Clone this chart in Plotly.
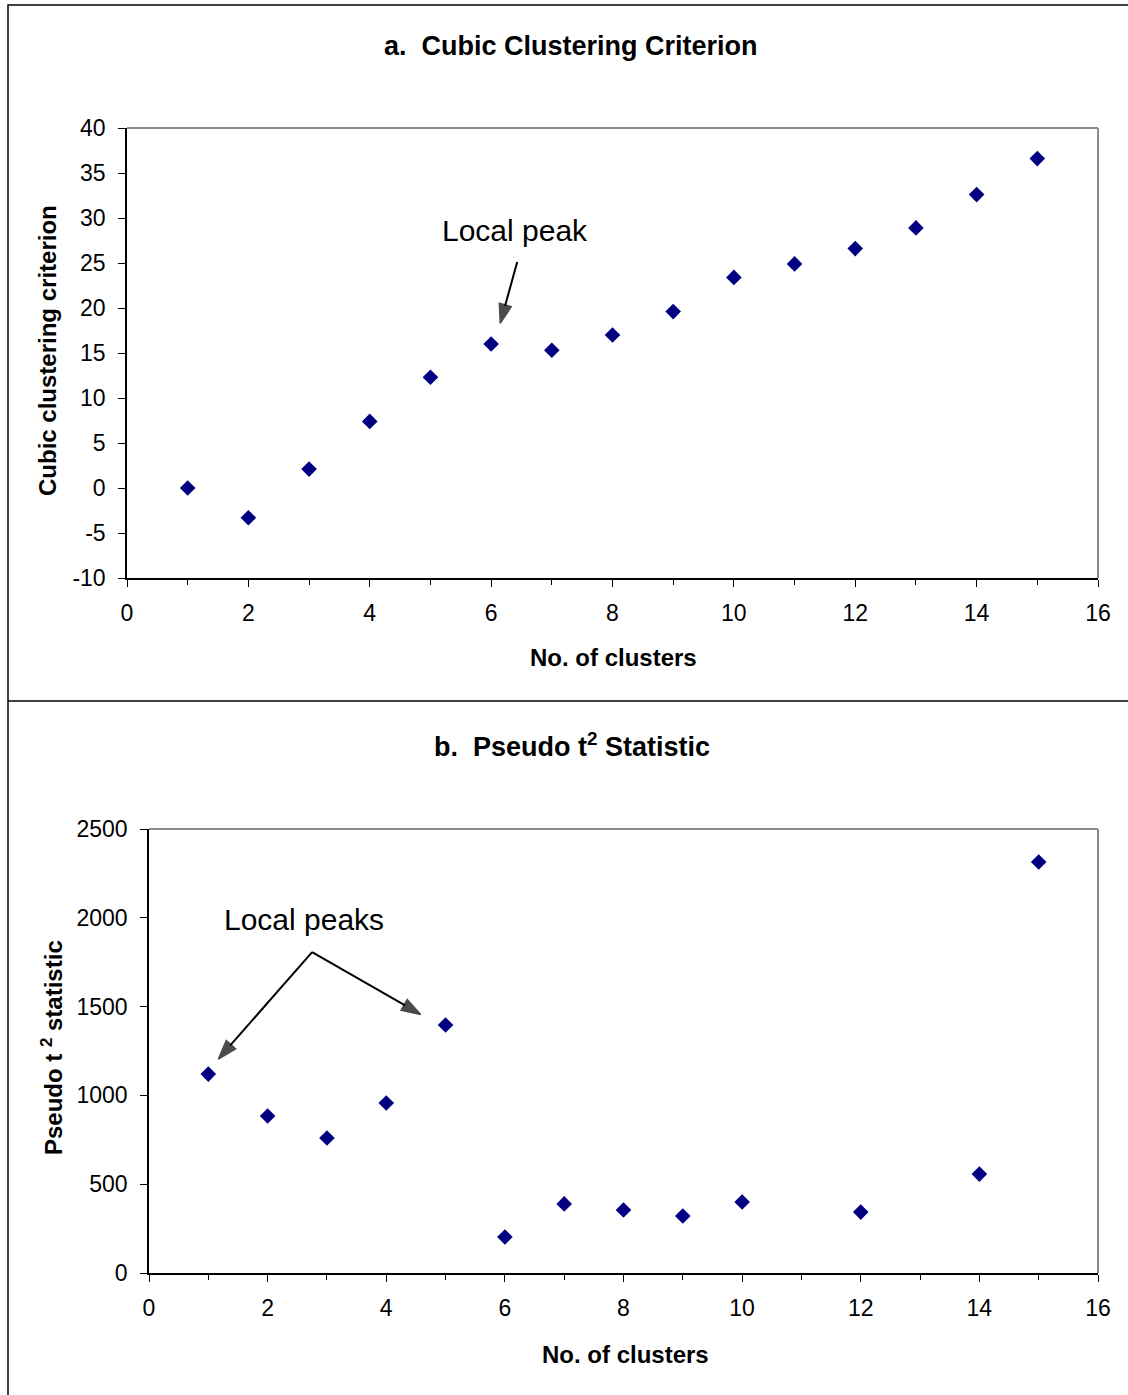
import plotly.graph_objects as go

# Cubic clustering criterion by number of clusters
clusters_a = [1, 2, 3, 4, 5, 6, 7, 8, 9, 10, 11, 12, 13, 14, 15]
ccc_values = [0.0, -3.3, 2.1, 7.4, 12.3, 16.0, 15.3, 17.0, 19.6, 23.4, 24.9, 26.6, 28.9, 32.6, 36.6]

# Pseudo t-squared statistic by number of clusters
clusters_b = [1, 2, 3, 4, 5, 6, 7, 8, 9, 10, 12, 14, 15]
pst2_values = [1120, 884, 760, 957, 1396, 203, 389, 355, 321, 400, 343, 557, 2314]

y_ticks_a = [-10, -5, 0, 5, 10, 15, 20, 25, 30, 35, 40]
y_tick_text_a = ["-10", "-5", "0", "5", "10", "15", "20", "25", "30", "35", "40"]
y_ticks_b = [0, 500, 1000, 1500, 2000, 2500]
x_ticks = [0, 2, 4, 6, 8, 10, 12, 14, 16]

W, H = 1128, 1395
FONT = "Liberation Sans, Arial, sans-serif"
MARKER = dict(symbol="diamond", size=12, color="#000080")


def px(x):
    return x / W


def py(y):
    return 1 - y / H


fig = go.Figure()
fig.add_trace(go.Scatter(x=clusters_a, y=ccc_values, mode="markers",
                         marker=MARKER, xaxis="x", yaxis="y", showlegend=False))
fig.add_trace(go.Scatter(x=clusters_b, y=pst2_values, mode="markers",
                         marker=MARKER, xaxis="x2", yaxis="y2", showlegend=False))


def add_arrow(x0, y0, x1, y1, xa, ya):
    """Straight callout arrow from (x0, y0) to a filled head at (x1, y1)."""
    fig.add_trace(go.Scatter(
        x=[x0, x1], y=[y0, y1], mode="lines+markers", xaxis=xa, yaxis=ya,
        line=dict(color="#000000", width=2),
        marker=dict(symbol="arrow", angleref="previous", size=[0, 20],
                    color="#000000", line=dict(color="#000000", width=1.5)),
        showlegend=False, hoverinfo="skip"))


# callout arrows
add_arrow(6.43, 25.1, 6.15, 18.3, "x", "y")
add_arrow(2.75, 1807, 1.17, 1205, "x2", "y2")
add_arrow(2.75, 1807, 4.58, 1456, "x2", "y2")

axis_common = dict(
    showgrid=False, zeroline=False, showline=True, linecolor="#000000",
    linewidth=1.5, ticks="outside", ticklen=7, tickwidth=1.3, tickcolor="#000000",
    tickfont=dict(family=FONT, size=23, color="#000000"), automargin=False,
)
minor_x = dict(dtick=1, ticks="outside", ticklen=5, tickcolor="#000000", tickwidth=1.3)

fig.update_layout(
    width=W, height=H,
    margin=dict(l=0, r=0, t=0, b=0, pad=0, autoexpand=False),
    paper_bgcolor="white", plot_bgcolor="white",
    xaxis=dict(domain=[px(127), px(1098)], range=[0, 16], tickvals=x_ticks,
               anchor="y", minor=minor_x, ticklabelstandoff=7, **axis_common),
    yaxis=dict(domain=[py(578), py(128)], range=[-10, 40], tickvals=y_ticks_a,
               ticktext=y_tick_text_a, anchor="x", ticklabelstandoff=8,
               **axis_common),
    xaxis2=dict(domain=[px(149), px(1098)], range=[0, 16], tickvals=x_ticks,
                anchor="y2", minor=minor_x, ticklabelstandoff=7, **axis_common),
    yaxis2=dict(domain=[py(1273), py(829)], range=[0, 2500], tickvals=y_ticks_b,
                anchor="x2", ticklabelstandoff=8, **axis_common),
)

shapes = [
    # outer frame and divider between the two panels
    dict(type="rect", xref="paper", yref="paper", x0=px(8), x1=px(1130),
         y0=py(1396), y1=py(5), line=dict(color="#000000", width=1.5)),
    dict(type="line", xref="paper", yref="paper", x0=px(8), x1=1,
         y0=py(701), y1=py(701), line=dict(color="#000000", width=1.5)),
]
# gray top/right plot-area border for each panel
for xr, yr in (("x", "y"), ("x2", "y2")):
    shapes.append(dict(type="line", xref=f"{xr} domain", yref=f"{yr} domain",
                       x0=0, x1=1, y0=1, y1=1, line=dict(color="#8c8c8c", width=2),
                       layer="below"))
    shapes.append(dict(type="line", xref=f"{xr} domain", yref=f"{yr} domain",
                       x0=1, x1=1, y0=0, y1=1, line=dict(color="#8c8c8c", width=2),
                       layer="below"))
fig.update_layout(shapes=shapes)

bold = dict(family=FONT, size=27, color="#000000")
label = dict(family=FONT, size=24, color="#000000")
callout = dict(family=FONT, size=30, color="#000000")
centred = dict(xref="paper", yref="paper", showarrow=False,
               xanchor="center", yanchor="middle")
annots = [
    dict(text="<b>a.  Cubic Clustering Criterion</b>", x=px(571), y=py(46),
         font=bold, **centred),
    dict(text="<b>b.  Pseudo t<sup>2</sup> Statistic</b>", x=px(572), y=py(745),
         font=bold, **centred),
    dict(text="<b>No. of clusters</b>", x=px(613), y=py(657), font=label, **centred),
    dict(text="<b>No. of clusters</b>", x=px(625), y=py(1354), font=label, **centred),
    dict(text="<b>Cubic clustering criterion</b>", x=px(48), y=py(351),
         textangle=-90, font=label, **centred),
    dict(text="<b>Pseudo t <sup>2</sup> statistic</b>", x=px(52), y=py(1048),
         textangle=-90, font=label, **centred),
    # callout labels
    dict(text="Local peak", x=6.39, y=28.6, xref="x", yref="y", showarrow=False,
         xanchor="center", yanchor="middle", font=callout),
    dict(text="Local peaks", x=2.61, y=1988, xref="x2", yref="y2", showarrow=False,
         xanchor="center", yanchor="middle", font=callout),
]
fig.update_layout(annotations=annots)

fig.write_html("out.html")
